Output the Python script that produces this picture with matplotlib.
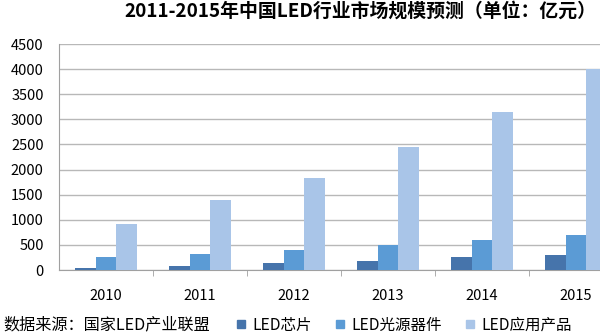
import numpy as np
import matplotlib.pyplot as plt
from matplotlib.lines import Line2D

plt.rcParams['font.family'] = ['Noto Sans CJK SC', 'DejaVu Sans']

years = ['2010', '2011', '2012', '2013', '2014', '2015']
series = ['LED芯片', 'LED光源器件', 'LED应用产品']
chip = [45, 80, 130, 185, 255, 300]
device = [255, 320, 400, 500, 590, 700]
product = [910, 1400, 1840, 2450, 3150, 4000]
colors = ['#4674AB', '#5B9BD5', '#A9C5E8']

fig = plt.figure(figsize=(6, 3.34), dpi=100)
ax = fig.add_axes([59/600, 64/334, 564/600, 226/334])

x = np.arange(len(years))
w = 0.22
for i, vals in enumerate([chip, device, product]):
    ax.bar(x + (i - 1)*w, vals, w, color=colors[i], zorder=3)

ax.set_xlim(-0.5, 5.5)
ax.set_ylim(0, 4500)
ax.set_yticks(np.arange(0, 4501, 500))
ax.yaxis.grid(True, color='#B8B8B8', lw=1, zorder=0)
ax.set_xticks(x)
ax.set_xticklabels(years)
ax.set_xticks(np.arange(0.5, 5.5, 1), minor=True)
ax.tick_params(axis='x', which='major', length=0, pad=14, labelsize=10.5)
ax.tick_params(axis='x', which='minor', length=4, color='#A0A0A0', direction='out')
ax.tick_params(axis='y', length=0, pad=11, labelsize=10.5)
for s in ['top', 'right']:
    ax.spines[s].set_visible(False)
for s in ['left', 'bottom']:
    ax.spines[s].set_color('#A0A0A0')

fig.text(360/600, 1 - 11/334, '2011-2015年中国LED行业市场规模预测（单位：亿元）',
         ha='center', va='center', fontsize=13.6, fontweight='bold')
fig.text(3/600, 9/334, '数据来源：国家LED产业联盟', ha='left', va='center', fontsize=11.6)

handles = [Line2D([], [], ls='none', marker='s', markersize=6, color=c) for c in colors]
fig.legend(handles, series, loc='center left', bbox_to_anchor=(236/600, 9/334),
           ncol=3, frameon=False, fontsize=11.2, handlelength=0.6, handletextpad=0.45,
           columnspacing=1.5, borderaxespad=0, borderpad=0)

fig.savefig('out.png', dpi=100)
